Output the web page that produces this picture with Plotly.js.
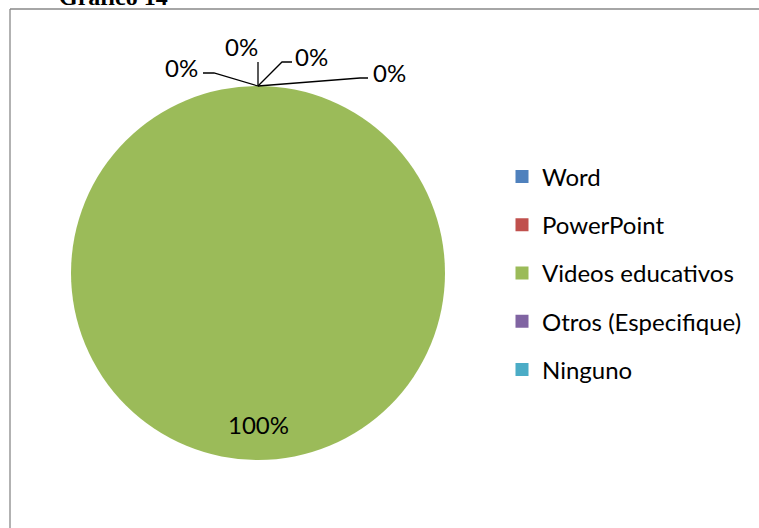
<!DOCTYPE html>
<html>
<head>
<meta charset="utf-8">
<script src="https://cdn.plot.ly/plotly-3.0.1.min.js"></script>
<style>html,body{margin:0;padding:0;background:#fff;}#chart{width:759px;height:528px;}</style>
</head>
<body>
<div id="chart"></div>
<script>
// ---- data ----
const categories = ['Word', 'PowerPoint', 'Videos educativos', 'Otros (Especifique)', 'Ninguno'];
const values = [0, 0, 100, 0, 0];
const colors = ['#4F81BD', '#C0504D', '#9BBB59', '#8064A2', '#4BACC6'];
const chartTitle = 'Gráfico 14';

// ---- layout constants (pixels) ----
const W = 759, H = 528;
const pieBox = {left: 71, right: 445, top: 86, bottom: 460};
const FONT = 'Lato, "Noto Sans", sans-serif';
const FS = 24;
// leader-line offsets for zero-value labels, relative to the slice point on the rim
const zeroLabelOffsets = [
  {elbow: [-44, -13], end: [-55, -13], text: [-77, -19]},
  {elbow: [0, -24],   end: [0, -24],   text: [-16, -39]},
  {elbow: [24, -24],  end: [34, -24],  text: [54, -30]},
  {elbow: [102, -8],  end: [110, -8],  text: [131, -14]}
];
const insideLabelFrac = 0.81;

const px = x => x / W;
const py = y => 1 - y / H;

const cx = (pieBox.left + pieBox.right) / 2;
const cy = (pieBox.top + pieBox.bottom) / 2;
const R = (pieBox.right - pieBox.left) / 2;
const total = values.reduce((a, b) => a + b, 0);

const traces = [{
  type: 'pie',
  labels: categories,
  values: values,
  marker: {colors: colors, line: {width: 0}},
  sort: false,
  direction: 'clockwise',
  rotation: 0,
  textinfo: 'none',
  hoverinfo: 'label+percent',
  showlegend: false,
  domain: {x: [px(pieBox.left), px(pieBox.right)], y: [py(pieBox.bottom), py(pieBox.top)]}
}];

// legend entries (one group each, so the legend spacing can match)
categories.forEach((c, i) => {
  traces.push({
    type: 'scatter', mode: 'markers', x: [null], y: [null],
    name: c, legendgroup: c,
    marker: {symbol: 'square', size: 13, color: colors[i]},
    hoverinfo: 'skip'
  });
});

// percentage labels
const annotations = [];
const shapes = [];
let cum = 0, zi = 0;
values.forEach((v, i) => {
  const pct = Math.round(v / total * 100) + '%';
  const mid = (cum + v / 2) / total * 2 * Math.PI; // clockwise from top
  cum += v;
  if (v > 0) {
    const lx = cx + Math.sin(mid) * R * insideLabelFrac;
    const ly = cy - Math.cos(mid) * R * insideLabelFrac;
    annotations.push({x: px(lx), y: py(ly), xref: 'paper', yref: 'paper', xanchor: 'center', yanchor: 'middle',
      text: pct, showarrow: false, font: {family: FONT, size: FS, color: '#000'}});
  } else {
    const ox = cx + Math.sin(mid) * R, oy = cy - Math.cos(mid) * R;
    const o = zeroLabelOffsets[zi++ % zeroLabelOffsets.length];
    shapes.push({type: 'path', xref: 'paper', yref: 'paper',
      path: `M${px(ox)},${py(oy)} L${px(ox + o.elbow[0])},${py(oy + o.elbow[1])} L${px(ox + o.end[0])},${py(oy + o.end[1])}`,
      line: {color: '#000', width: 1.3}});
    annotations.push({x: px(ox + o.text[0]), y: py(oy + o.text[1]), xref: 'paper', yref: 'paper',
      xanchor: 'center', yanchor: 'middle',
      text: pct, showarrow: false, font: {family: FONT, size: FS, color: '#000'}});
  }
});

// title (cut off at top, as in the original)
annotations.push({x: px(57), y: py(12), xref: 'paper', yref: 'paper', xanchor: 'left', yanchor: 'bottom',
  text: '<b>' + chartTitle + '</b>', showarrow: false,
  font: {family: '"Liberation Serif", "Times New Roman", serif', size: 24, color: '#000'}});

// chart frame
shapes.push({type: 'line', xref: 'paper', yref: 'paper', x0: px(10), y0: py(9), x1: 1, y1: py(9), line: {color: '#898989', width: 1.3}});
shapes.push({type: 'line', xref: 'paper', yref: 'paper', x0: px(10), y0: py(9), x1: px(10), y1: 0, line: {color: '#898989', width: 1.3}});

const layout = {
  width: W, height: H,
  margin: {l: 0, r: 0, t: 0, b: 0},
  paper_bgcolor: '#fff', plot_bgcolor: '#fff',
  xaxis: {visible: false}, yaxis: {visible: false},
  showlegend: true,
  legend: {x: px(502), xanchor: 'left', y: py(273), yanchor: 'middle',
    font: {family: FONT, size: FS, color: '#000'}, tracegroupgap: 14, traceorder: 'grouped',
    bgcolor: 'rgba(0,0,0,0)'},
  annotations: annotations,
  shapes: shapes
};

Plotly.newPlot('chart', traces, layout, {displayModeBar: false, staticPlot: true});
</script>
</body>
</html>
